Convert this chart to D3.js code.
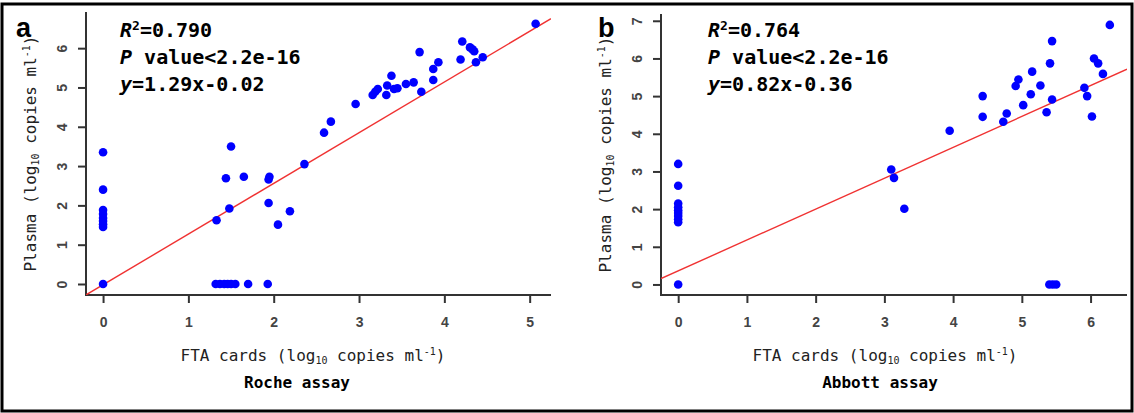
<!DOCTYPE html>
<html>
<head>
<meta charset="utf-8">
<script src="https://cdn.jsdelivr.net/npm/d3@7"></script>
<style>
  body { margin: 0; background: white; }
  svg { display: block; }
</style>
</head>
<body>
<div id="chart"></div>
<script>

//roche panel, FTA card vs plasma values (log10 copies/ml)
const rocheFTA = [0, 0, 0, 0, 0, 0, 0, 0, 0,
    1.32, 1.37, 1.42, 1.46, 1.50, 1.55, 1.70, 1.93,
    1.33, 1.48, 1.44, 1.50, 1.65, 1.95, 1.94, 1.94, 2.05, 2.19, 2.36, 2.59, 2.67, 2.96,
    3.16, 3.19, 3.22, 3.32, 3.33, 3.38, 3.41, 3.45, 3.55, 3.64, 3.73, 3.71, 3.87, 3.87,
    3.93, 4.19, 4.21, 4.30, 4.33, 4.35, 4.37, 4.45, 5.07];
const roche_plasma = [3.35, 2.40, 1.88, 1.78, 1.68, 1.60, 1.52, 1.45, 0,
    0, 0, 0, 0, 0, 0, 0, 0,
    1.62, 1.92, 2.69, 3.50, 2.73, 2.73, 2.66, 2.06, 1.51, 1.85, 3.05, 3.85, 4.13, 4.58,
    4.81, 4.89, 4.96, 4.81, 5.05, 5.30, 4.96, 4.98, 5.09, 5.13, 4.89, 5.90, 5.19, 5.47,
    5.64, 5.71, 6.17, 6.02, 5.97, 5.92, 5.64, 5.77, 6.62];

//abbott panel
const abbottFTA = [0, 0, 0, 0, 0, 0, 0, 0, 0, 0,
    3.10, 3.14, 3.29, 3.95, 4.43, 4.43, 4.73, 4.78, 4.91, 4.95, 5.02, 5.13, 5.15,
    5.27, 5.36, 5.41, 5.44, 5.44, 5.40, 5.45, 5.50, 5.91, 5.95, 6.02, 6.05, 6.11, 6.18, 6.28];
const abbott_plasma = [3.20, 2.62, 2.15, 2.05, 1.97, 1.90, 1.82, 1.73, 1.65, 0,
    3.05, 2.83, 2.01, 4.08, 5.00, 4.45, 4.32, 4.54, 5.27, 5.44, 4.76, 5.05, 5.65,
    5.28, 4.57, 5.87, 6.46, 4.91, 0, 0, 0, 5.22, 5.00, 4.46, 6.00, 5.87, 5.59, 6.89];

//tick labels
const rocheXTicks = [0, 1, 2, 3, 4, 5];
const rocheYTicks = [0, 1, 2, 3, 4, 5, 6];
const abbottXTicks = [0, 1, 2, 3, 4, 5, 6];
const abbottYTicks = [0, 1, 2, 3, 4, 5, 6, 7];

//fitted lines as drawn [slope, intercept]
const rocheFit = [1.29, -0.02];
const abbottFit = [0.82, 0.36];

//stats text
const rocheStats = ["0.790", "2.2e-16", "1.29x-0.02"];
const abbottStats = ["0.764", "2.2e-16", "0.82x-0.36"];

const width = 1134;
const height = 413;
const mono = "'DejaVu Sans Mono', monospace";
const sans = "'Liberation Sans', Arial, sans-serif";

const svg = d3.select("#chart")
    .append("svg")
    .attr("width", width)
    .attr("height", height);

//outer frame
svg.append("rect")
    .attr("x", 2)
    .attr("y", 4)
    .attr("width", width - 4)
    .attr("height", height - 6)
    .attr("fill", "none")
    .attr("stroke", "black")
    .attr("stroke-width", 3);

const defs = svg.append("defs");

function drawPanel(opt) {

    const xScale = d3.scaleLinear().domain(opt.xDomain).range([opt.left, opt.right]);
    const yScale = d3.scaleLinear().domain(opt.yDomain).range([opt.bottom, opt.top]);

    const g = svg.append("g");

    //clip for the fit line
    defs.append("clipPath")
        .attr("id", "clip" + opt.id)
        .append("rect")
        .attr("x", opt.left)
        .attr("y", opt.top)
        .attr("width", opt.right - opt.left)
        .attr("height", opt.bottom - opt.top);

    //x axis
    g.append("g")
        .attr("transform", "translate(0," + opt.bottom + ")")
        .call(d3.axisBottom(xScale).tickValues(opt.xTicks).tickFormat(d3.format("d")).tickSize(8).tickPadding(14))
        .call(function(a) { a.select(".domain").remove(); })
        .call(function(a) {
            a.selectAll("line").attr("stroke", "#333").attr("stroke-width", 2);
            a.selectAll("text")
                .attr("fill", "#444")
                .style("font-family", sans)
                .style("font-size", "14px")
                .style("font-weight", "bold");
        });

    //y axis, labels turned like R does
    g.append("g")
        .attr("transform", "translate(" + opt.left + ",0)")
        .call(d3.axisLeft(yScale).tickValues(opt.yTicks).tickFormat(d3.format("d")).tickSize(8))
        .call(function(a) { a.select(".domain").remove(); })
        .call(function(a) {
            a.selectAll("line").attr("stroke", "#333").attr("stroke-width", 2);
            a.selectAll("text")
                .attr("x", 0)
                .attr("y", -19)
                .attr("dy", null)
                .attr("transform", "rotate(-90)")
                .attr("text-anchor", "middle")
                .attr("fill", "#444")
                .style("font-family", sans)
                .style("font-size", "14px")
                .style("font-weight", "bold");
        });

    //L shaped box
    g.append("path")
        .attr("d", "M" + opt.left + "," + opt.top + "V" + opt.bottom + "H" + opt.right)
        .attr("fill", "none")
        .attr("stroke", "#333")
        .attr("stroke-width", 2);

    //fit line
    g.append("line")
        .attr("clip-path", "url(#clip" + opt.id + ")")
        .attr("x1", xScale(opt.xDomain[0]))
        .attr("y1", yScale(opt.fit[0] * opt.xDomain[0] + opt.fit[1]))
        .attr("x2", xScale(opt.xDomain[1]))
        .attr("y2", yScale(opt.fit[0] * opt.xDomain[1] + opt.fit[1]))
        .attr("stroke", "#f03232")
        .attr("stroke-width", 1.4);

    //points
    g.selectAll("circle")
        .data(opt.xs)
        .enter()
        .append("circle")
        .attr("cx", function(d) { return xScale(d); })
        .attr("cy", function(d, i) { return yScale(opt.ys[i]); })
        .attr("r", 4.3)
        .attr("fill", "#0000ff");

    //panel letter
    g.append("text")
        .attr("x", opt.letterX)
        .attr("y", 37)
        .style("font-family", sans)
        .style("font-size", "27px")
        .style("font-weight", "bold")
        .text(opt.letter);

    //stats block
    const statX = opt.statX;
    const s1 = g.append("text").attr("x", statX).attr("y", 37)
        .style("font-family", mono).style("font-size", "20px").style("font-weight", "bold");
    s1.append("tspan").style("font-style", "italic").text("R");
    s1.append("tspan").attr("dy", -7).style("font-size", "13px").text("2");
    s1.append("tspan").attr("dy", 7).text("=" + opt.stats[0]);

    const s2 = g.append("text").attr("x", statX).attr("y", 64)
        .style("font-family", mono).style("font-size", "20px").style("font-weight", "bold");
    s2.append("tspan").style("font-style", "italic").text("P");
    s2.append("tspan").text(" value<" + opt.stats[1]);

    const s3 = g.append("text").attr("x", statX).attr("y", 91)
        .style("font-family", mono).style("font-size", "20px").style("font-weight", "bold");
    s3.append("tspan").style("font-style", "italic").text("y");
    s3.append("tspan").text("=" + opt.stats[2]);

    //x title
    const xt = g.append("text")
        .attr("x", opt.xTitleX)
        .attr("y", 361)
        .attr("text-anchor", "middle")
        .attr("fill", "#222")
        .style("font-family", mono)
        .style("font-size", "16px");
    xt.append("tspan").text("FTA cards (log");
    xt.append("tspan").attr("dy", 3).style("font-size", "10px").text("10");
    xt.append("tspan").attr("dy", -3).text(" copies ml");
    xt.append("tspan").attr("dy", -6).style("font-size", "10px").text("-1");
    xt.append("tspan").attr("dy", 6).text(")");

    //assay name
    g.append("text")
        .attr("x", opt.assayX)
        .attr("y", 388)
        .attr("text-anchor", "middle")
        .style("font-family", mono)
        .style("font-size", "16px")
        .style("font-weight", "bold")
        .text(opt.assay);

    //y title
    const yt = g.append("text")
        .attr("transform", "translate(" + (opt.left - 50) + "," + ((opt.top + opt.bottom) / 2) + ") rotate(-90)")
        .attr("text-anchor", "middle")
        .attr("fill", "#222")
        .style("font-family", mono)
        .style("font-size", "16px");
    yt.append("tspan").text("Plasma (log");
    yt.append("tspan").attr("dy", 3).style("font-size", "10px").text("10");
    yt.append("tspan").attr("dy", -3).text(" copies ml");
    yt.append("tspan").attr("dy", -6).style("font-size", "10px").text("-1");
    yt.append("tspan").attr("dy", 6).text(")");
}

drawPanel({
    id: "a", letter: "a", letterX: 16,
    xs: rocheFTA, ys: roche_plasma,
    xDomain: [-0.2, 5.25], yDomain: [-0.28, 6.92],
    left: 86, right: 551, top: 12, bottom: 295,
    xTicks: rocheXTicks, yTicks: rocheYTicks,
    fit: rocheFit, stats: rocheStats,
    statX: 120, xTitleX: 313, assayX: 297, assay: "Roche assay"
});

drawPanel({
    id: "b", letter: "b", letterX: 598,
    xs: abbottFTA, ys: abbott_plasma,
    xDomain: [-0.25, 6.53], yDomain: [-0.28, 7.18],
    left: 661, right: 1127, top: 14, bottom: 295,
    xTicks: abbottXTicks, yTicks: abbottYTicks,
    fit: abbottFit, stats: abbottStats,
    statX: 708, xTitleX: 885, assayX: 880, assay: "Abbott assay"
});

</script>
</body>
</html>
